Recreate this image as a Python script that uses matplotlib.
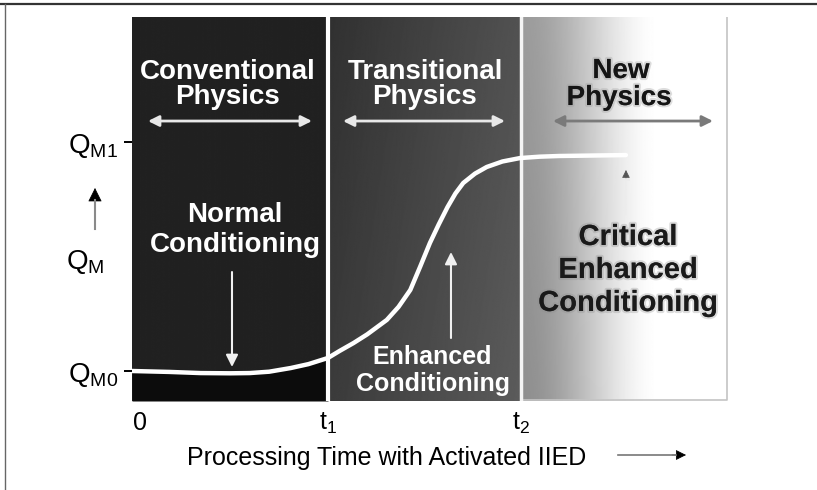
import numpy as np
import matplotlib
matplotlib.use('Agg')
import matplotlib.pyplot as plt
from matplotlib import patheffects as pe
from matplotlib.lines import Line2D
import matplotlib.transforms as mtransforms

plt.rcParams['font.family'] = ['Liberation Sans', 'DejaVu Sans']
plt.rcParams['mathtext.fontset'] = 'custom'
plt.rcParams['mathtext.rm'] = 'Liberation Sans'
plt.rcParams['mathtext.it'] = 'Liberation Sans'
plt.rcParams['mathtext.default'] = 'regular'

# ---------------- data ----------------
phase_bounds = [0.0, 1.0, 1.985, 3.041]          # 0, t1, t2, end of time axis
q_range = [-0.131, 1.546]                         # Q axis extent (QM0 = 0, QM1 = 1)
t_vals = [0.00, 0.19, 0.35, 0.50, 0.60, 0.70, 0.81, 0.90, 1.00, 1.06, 1.13,
          1.20, 1.30, 1.36, 1.42, 1.47, 1.52, 1.565, 1.61, 1.65, 1.69, 1.75,
          1.81, 1.89, 1.98, 2.08, 2.18, 2.35, 2.52]
q_vals = [0.000, -0.004, -0.009, -0.010, -0.009, -0.003, 0.013, 0.030, 0.057,
          0.088, 0.122, 0.160, 0.223, 0.280, 0.354, 0.455, 0.559, 0.640, 0.716,
          0.775, 0.821, 0.862, 0.891, 0.915, 0.930, 0.936, 0.939, 0.941, 0.943]
xtick_pos = [0.0, 1.0, 1.985]
xtick_labels = ['0', r't$_1$', r't$_2$']
ytick_pos = [0.0, 1.0]
ytick_labels = [r'Q$_{M0}$', r'Q$_{M1}$']

W, H = 817, 490
fig = plt.figure(figsize=(W / 100, H / 100), dpi=100)
ax = fig.add_axes([132 / W, 89 / H, 596 / W, 384 / H])
ax.set_xlim(phase_bounds[0], phase_bounds[-1])
ax.set_ylim(*q_range)

def d(px, py):
    """figure-pixel (from top-left) -> data coords for annotation placement"""
    return ((px - 132) / 196.0, (371 - py) / 229.0)

# ---------------- background ----------------
nx, ny = 700, 300
xs = np.linspace(phase_bounds[0], phase_bounds[-1], nx)
ys = np.linspace(q_range[0], q_range[1], ny)
X, Y = np.meshgrid(xs, ys)
vfrac = (Y - q_range[0]) / (q_range[1] - q_range[0])   # 0 bottom, 1 top
g = np.zeros_like(X)
m1 = X < phase_bounds[1]
m2 = (X >= phase_bounds[1]) & (X < phase_bounds[2])
m3 = X >= phase_bounds[2]
g[m1] = 0.13
f2 = (X - phase_bounds[1]) / (phase_bounds[2] - phase_bounds[1])
g[m2] = (0.19 + 0.13 * f2 + 0.04 * (1 - vfrac))[m2]
f3 = np.clip((X - phase_bounds[2]) / 0.72, 0, 1)
s3 = f3 * f3 * (3 - 2 * f3)
g[m3] = (0.56 + 0.44 * s3 + 0.05 * vfrac * (1 - s3))[m3]
g = np.clip(g, 0, 1)
ax.imshow(g, extent=[phase_bounds[0], phase_bounds[-1], q_range[0], q_range[1]],
          origin='lower', cmap='gray', vmin=0, vmax=1, aspect='auto',
          interpolation='bilinear', zorder=0)

# darker region under the curve in the first phase
tv = np.array(t_vals)
qv = np.array(q_vals)
mask = tv <= phase_bounds[1]
ax.fill_between(tv[mask], q_range[0], qv[mask], color='#0c0c0c', zorder=1, lw=0)

# panel 3 border
ax.plot([phase_bounds[2], phase_bounds[3] - 0.003, phase_bounds[3] - 0.003],
        [q_range[0] + 0.003, q_range[0] + 0.003, q_range[1]], color='#c4c4c4',
        lw=1.2, zorder=2)

# dividers
ax.axvline(phase_bounds[1], color='white', lw=3, zorder=3)
ax.axvline(phase_bounds[2], color='#f4f4f4', lw=2.5, zorder=3)

# the S-curve
ax.plot(tv, qv, color='white', lw=3.2, solid_capstyle='round',
        solid_joinstyle='round', zorder=4)

for s in ax.spines.values():
    s.set_visible(False)

# ticks
ax.set_xticks(xtick_pos)
ax.set_xticklabels(xtick_labels)
ax.tick_params(axis='x', length=0, pad=7, labelsize=18)
ax.set_yticks(ytick_pos)
ax.set_yticklabels(ytick_labels)
ax.tick_params(axis='y', length=6, width=1.4, pad=4, labelsize=20)
lab0 = ax.get_xticklabels()[0]
lab0.set_transform(lab0.get_transform() +
                   mtransforms.ScaledTranslation(8 / 100, 0, fig.dpi_scale_trans))

# axis labels
ax.set_xlabel('Processing Time with Activated IIED', fontsize=18)
ax.xaxis.set_label_coords((387 - 132) / 596, (401 - 446) / 384)
ax.set_ylabel(r'Q$_M$', fontsize=20, rotation=0, ha='center', va='center')
ax.yaxis.set_label_coords((85 - 132) / 596, (401 - 262) / 384)

# ---------------- texts ----------------
def line_text(px, py, s, color, size, effects=None):
    x, y = d(px, py)
    ax.text(x, y, s, color=color, fontsize=size, fontweight='bold',
            ha='center', va='center', zorder=6, path_effects=effects)

line_text(228, 72, 'Conventional', 'white', 20)
line_text(228, 97, 'Physics', 'white', 20)
line_text(425, 72, 'Transitional', 'white', 20)
line_text(425, 97, 'Physics', 'white', 20)
glow = [pe.withStroke(linewidth=3, foreground=(0.62, 0.62, 0.62, 0.35))]
line_text(621, 71, 'New', '#151515', 20, glow)
line_text(619, 98, 'Physics', '#151515', 20, glow)

line_text(235, 215, 'Normal', 'white', 20)
line_text(235, 245, 'Conditioning', 'white', 20)
line_text(432, 357, 'Enhanced', 'white', 18)
line_text(433, 384, 'Conditioning', 'white', 18)
glow2 = [pe.withStroke(linewidth=3, foreground=(0.55, 0.55, 0.55, 0.3))]
line_text(628, 237, 'Critical', '#1a1a1a', 21, glow2)
line_text(628, 270, 'Enhanced', '#1a1a1a', 21, glow2)
line_text(628, 303, 'Conditioning', '#1a1a1a', 21, glow2)

# ---------------- arrows ----------------
def arrow(p0, p1, color, style='-|>', lw=1.6, ms=16, z=5):
    ax.annotate('', xy=d(*p1), xytext=d(*p0),
                arrowprops=dict(arrowstyle=style, color=color, lw=lw,
                                mutation_scale=ms, shrinkA=0, shrinkB=0),
                zorder=z)

arrow((148, 121), (312, 121), '#e8e8e8', '<|-|>', 2.0, 16)
arrow((343, 121), (505, 121), '#e8e8e8', '<|-|>', 2.0, 16)
arrow((553, 121), (713, 121), '#7a7a7a', '<|-|>', 2.0, 16)
arrow((232, 272), (232, 367), '#f0f0f0', '-|>', 1.5, 18)
arrow((451, 338), (451, 252), '#f0f0f0', '-|>', 1.5, 18)
arrow((626, 215), (626, 172), '#ececec', '-|>', 1.0, 12)
ax.annotate('', xy=d(626, 170), xytext=d(626, 178),
            arrowprops=dict(arrowstyle='-|>', color='#555555', lw=0.5,
                            mutation_scale=12, shrinkA=0, shrinkB=0), zorder=5)

# Q_M up arrow and x-axis arrow (figure pixels)
fig.add_artist(Line2D([95 / W, 95 / W], [(H - 229) / H, (H - 200) / H],
                      color='#8a8a8a', lw=1.5))
ax.annotate('', xy=(95, H - 188), xytext=(95, H - 207), xycoords='figure pixels',
            textcoords='figure pixels',
            arrowprops=dict(arrowstyle='-|>', color='black', lw=0.5,
                            mutation_scale=22, shrinkA=0, shrinkB=0),
            annotation_clip=False)
fig.add_artist(Line2D([618 / W, 676 / W], [(H - 455) / H, (H - 455) / H],
                      color='#777777', lw=1.2))
ax.annotate('', xy=(686, H - 455), xytext=(672, H - 455), xycoords='figure pixels',
            textcoords='figure pixels',
            arrowprops=dict(arrowstyle='-|>', color='black', lw=0.5,
                            mutation_scale=16, shrinkA=0, shrinkB=0),
            annotation_clip=False)

# outer frame lines
fig.add_artist(Line2D([0, 1], [(H - 4) / H, (H - 4) / H], color='#333333', lw=1.6))
fig.add_artist(Line2D([5 / W, 5 / W], [0, (H - 4) / H], color='#666666', lw=1.0))

fig.savefig('out.png', dpi=100)
